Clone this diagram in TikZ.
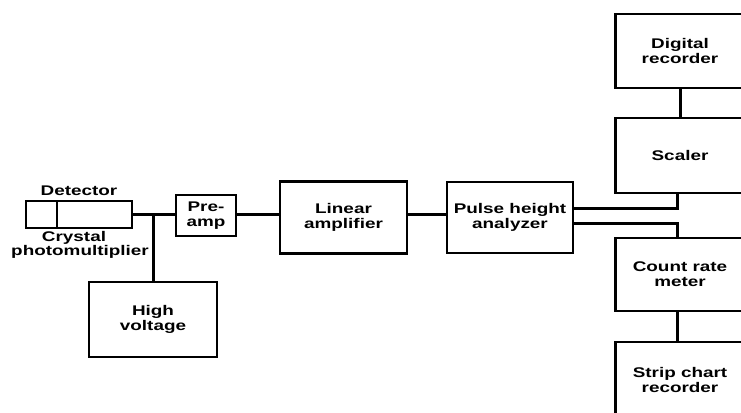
\documentclass[tikz,border=0pt]{standalone}
\usepackage{fontspec}
\setmainfont{Liberation Sans}[FakeStretch=1.35]
\usetikzlibrary{positioning}

\begin{document}
\begin{tikzpicture}[x=1pt,y=-1pt,
  blk/.style={draw,line width=2.2pt,inner sep=0pt,align=center,
    font=\fontsize{14}{15}\selectfont\bfseries},
  lbl/.style={inner sep=0pt,font=\fontsize{14}{15}\selectfont\bfseries},
  wire/.style={line width=3pt}]

\useasboundingbox (0,0) rectangle (741,412);

% Levels of the signal lines
\def\Bus{214};
\def\Up{9.5pt};
\def\Dn{-5.5pt};

% Detector (crystal + photomultiplier)
\node[blk,minimum width=31pt,minimum height=27pt] (crys) at (41.5,214.5) {};
\node[blk,minimum width=75pt,minimum height=27pt] (pmt) at (94.5,214.5) {};
\node[lbl] (detlbl) at (79,191) {Detector};
\node[lbl] (cryslbl) at (74,238) {Crystal};
\node[lbl] (pmtlbl) at (80,252) {photomultiplier};

% Main chain
\node[blk,minimum width=60pt,minimum height=41pt] (preamp) at (206,215.5) {Pre-\\amp};
\node[blk,minimum width=127pt,minimum height=72pt] (linamp) at (343.5,217.5) {Linear\\amplifier};
\node[blk,minimum width=126pt,minimum height=71pt] (pha) at (510,217.5) {Pulse height\\analyzer};
\node[blk,minimum width=128pt,minimum height=75pt] (hv) at (153,319.5) {High\\voltage};

% Read-out column
\node[blk,minimum width=129pt,minimum height=74pt] (digrec) at (680,51) {Digital\\recorder};
\node[blk,minimum width=129pt,minimum height=75pt] (scaler) at (680,155.5) {Scaler};
\node[blk,minimum width=129pt,minimum height=73pt] (crm) at (680,274.5) {Count rate\\meter};
\node[blk,minimum width=129pt,minimum height=75pt] (strip) at (680,379.5) {Strip chart\\recorder};

% Signal lines
\draw[wire] (pmt.east |- 0,\Bus) -- (preamp.west |- 0,\Bus);
\draw[wire] (hv.north) -- (hv.north |- 0,\Bus);
\draw[wire] (preamp.east |- 0,\Bus) -- (linamp.west |- 0,\Bus);
\draw[wire] (linamp.east |- 0,\Bus) -- (pha.west |- 0,\Bus);
\draw[wire] ([yshift=\Up]pha.east) -| ([xshift=-3pt]scaler.south);
\draw[wire] ([yshift=\Dn]pha.east) -| ([xshift=-3pt]crm.north);
\draw[wire] (digrec.south) -- (scaler.north);
\draw[wire] ([xshift=-3pt]crm.south) -- ([xshift=-3pt]strip.north);
\end{tikzpicture}
\end{document}
